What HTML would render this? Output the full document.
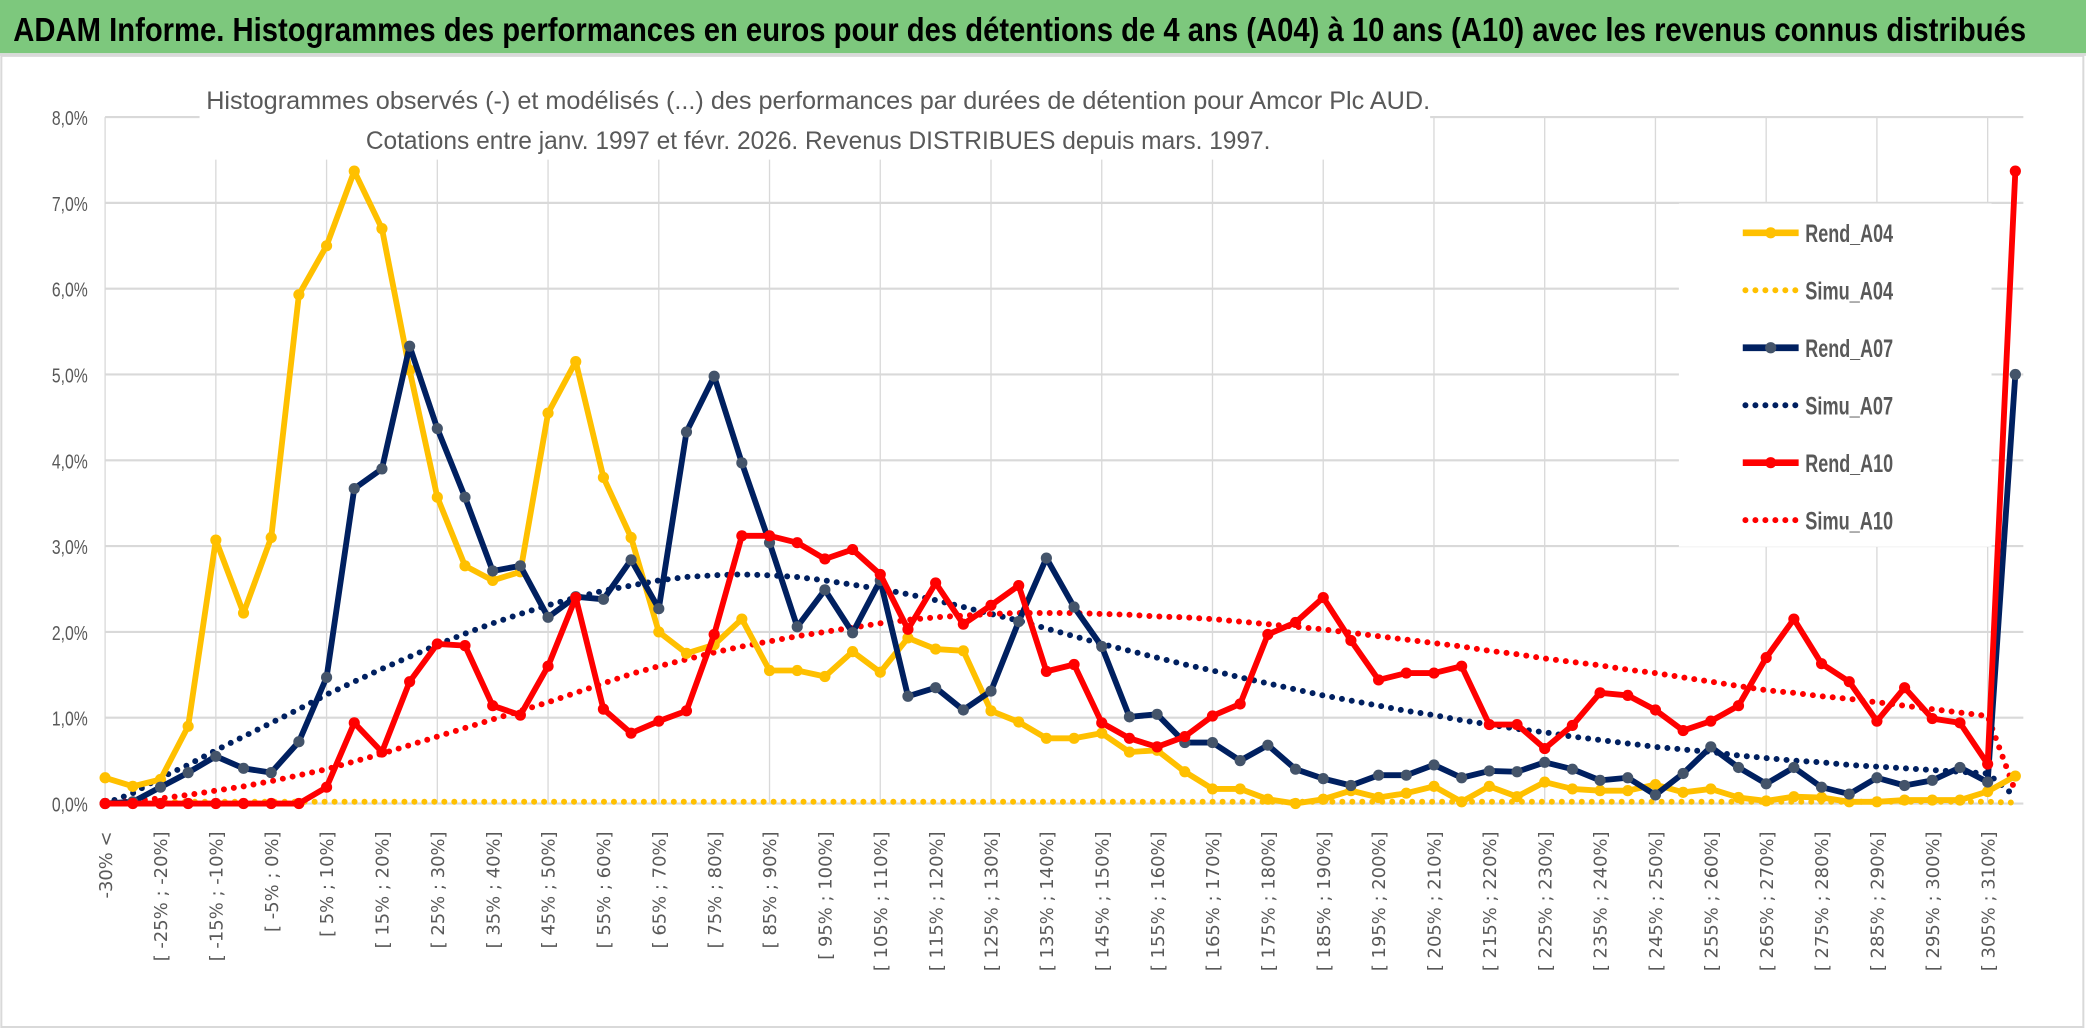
<!DOCTYPE html>
<html><head><meta charset="utf-8"><style>
html,body{margin:0;padding:0;background:#fff;}
svg{display:block;}
</style></head><body>
<svg id="chart" xmlns="http://www.w3.org/2000/svg" width="2086" height="1031" viewBox="0 0 1568 775" preserveAspectRatio="none">
<rect x="0" y="0" width="1568" height="775" fill="#fff"/>
<rect x="0" y="0" width="1568" height="40" fill="#7DC87D"/>
<line x1="0" y1="41" x2="1568" y2="41" stroke="#d9d9d9" stroke-width="2"/>
<text x="10" y="31" font-family="Liberation Sans, sans-serif" font-weight="bold" font-size="25" fill="#000" textLength="1513" lengthAdjust="spacingAndGlyphs">ADAM Informe. Histogrammes des performances en euros pour des détentions de 4 ans (A04) à 10 ans (A10) avec les revenus connus distribués</text>
<rect x="1" y="42" width="1565" height="730" fill="none" stroke="#d9d9d9" stroke-width="1.5"/>
<g id="grid"></g>
<rect x="150" y="58" width="925" height="62" fill="#fff"/>
<text x="615" y="82" text-anchor="middle" font-family="Liberation Sans, sans-serif" font-size="19" fill="#595959" textLength="920" lengthAdjust="spacingAndGlyphs">Histogrammes observés (-) et modélisés (...) des performances par durées de détention pour Amcor Plc AUD.</text>
<text x="615" y="112" text-anchor="middle" font-family="Liberation Sans, sans-serif" font-size="19" fill="#595959" textLength="680" lengthAdjust="spacingAndGlyphs">Cotations entre janv. 1997 et févr. 2026. Revenus DISTRIBUES depuis mars. 1997.</text>
<rect x="1262" y="153" width="235" height="258" fill="#fff"/>
<g id="axes"></g>
<g id="series"></g>
<g id="legend"></g>
</svg>
<script>
const categories = ["-30% <"];
for (let k = 0; k < 69; k++) { categories.push("[ " + (-30 + 5*k) + "% ; " + (-25 + 5*k) + "%]"); }
const yTicks = [0,1,2,3,4,5,6,7,8];
const yTickLabels = ["0,0%","1,0%","2,0%","3,0%","4,0%","5,0%","6,0%","7,0%","8,0%"];
const rendA04 = [0.30,0.20,0.28,0.90,3.07,2.22,3.10,5.93,6.50,7.37,6.70,5.05,3.57,2.77,2.60,2.70,4.55,5.15,3.80,3.10,2.00,1.75,1.85,2.15,1.55,1.55,1.48,1.77,1.53,1.93,1.80,1.78,1.08,0.95,0.76,0.76,0.82,0.60,0.62,0.37,0.17,0.17,0.05,0.00,0.05,0.15,0.07,0.12,0.20,0.02,0.20,0.08,0.25,0.17,0.15,0.15,0.22,0.13,0.17,0.07,0.03,0.08,0.07,0.02,0.02,0.04,0.04,0.04,0.14,0.32];
const rendA07 = [0.00,0.02,0.19,0.36,0.55,0.41,0.36,0.72,1.47,3.67,3.90,5.33,4.37,3.57,2.71,2.77,2.17,2.41,2.38,2.84,2.27,4.33,4.98,3.97,3.04,2.06,2.49,1.99,2.60,1.25,1.35,1.09,1.31,2.12,2.86,2.29,1.83,1.01,1.04,0.71,0.71,0.50,0.68,0.40,0.29,0.21,0.33,0.33,0.45,0.30,0.38,0.37,0.48,0.40,0.27,0.30,0.10,0.35,0.66,0.42,0.23,0.42,0.19,0.11,0.30,0.21,0.27,0.42,0.25,5.00];
const rendA10 = [0,0,0,0,0,0,0,0,0.19,0.94,0.60,1.42,1.86,1.84,1.14,1.03,1.60,2.40,1.10,0.82,0.96,1.08,1.97,3.12,3.12,3.04,2.85,2.96,2.67,2.03,2.57,2.09,2.31,2.54,1.54,1.62,0.94,0.76,0.66,0.78,1.02,1.16,1.97,2.11,2.40,1.90,1.44,1.52,1.52,1.60,0.92,0.92,0.64,0.91,1.29,1.26,1.09,0.85,0.96,1.14,1.70,2.15,1.63,1.42,0.96,1.35,0.99,0.94,0.46,7.37];
const simuA04 = [0.02,0.02,0.02,0.02,0.02,0.02,0.02,0.02,0.02,0.02,0.02,0.02,0.02,0.02,0.02,0.02,0.02,0.02,0.02,0.02,0.02,0.02,0.02,0.02,0.02,0.02,0.02,0.02,0.02,0.02,0.02,0.02,0.02,0.02,0.02,0.02,0.02,0.02,0.02,0.02,0.02,0.02,0.02,0.02,0.02,0.02,0.02,0.02,0.02,0.02,0.02,0.02,0.02,0.02,0.02,0.02,0.02,0.02,0.02,0.02,0.02,0.02,0.02,0.02,0.02,0.02,0.02,0.02,0.02,0.01];
const simuA07 = [0.0,0.12,0.3,0.45,0.62,0.78,0.94,1.1,1.27,1.42,1.57,1.71,1.85,1.98,2.1,2.21,2.31,2.4,2.48,2.54,2.6,2.64,2.66,2.67,2.66,2.64,2.6,2.55,2.5,2.44,2.37,2.29,2.21,2.13,2.04,1.95,1.86,1.78,1.7,1.62,1.55,1.47,1.4,1.33,1.26,1.2,1.14,1.08,1.03,0.97,0.92,0.87,0.83,0.78,0.74,0.7,0.66,0.63,0.6,0.56,0.53,0.5,0.48,0.45,0.43,0.41,0.39,0.37,0.35,0.08];
const simuA10 = [0.0,0.03,0.06,0.1,0.15,0.2,0.26,0.33,0.4,0.49,0.58,0.68,0.78,0.88,0.98,1.08,1.18,1.29,1.4,1.51,1.6,1.68,1.76,1.83,1.89,1.95,2.0,2.05,2.1,2.14,2.17,2.19,2.21,2.22,2.22,2.22,2.21,2.2,2.18,2.17,2.15,2.12,2.09,2.06,2.03,1.99,1.95,1.91,1.87,1.83,1.78,1.74,1.69,1.65,1.61,1.56,1.52,1.47,1.42,1.37,1.32,1.29,1.25,1.22,1.18,1.14,1.1,1.06,1.02,0.14];

const NS = "http://www.w3.org/2000/svg";
const X0 = 79, DX = 20.81, Y0 = 604, DY = 64.5;
function xPos(i){ return X0 + i*DX; }
function yPos(v){ return Y0 - v*DY; }
function mk(tag, attrs, parent){ const e = document.createElementNS(NS, tag); for (const k in attrs) e.setAttribute(k, attrs[k]); parent.appendChild(e); return e; }

const grid = document.getElementById('grid');
yTicks.forEach(t => {
  const l = mk('line', {x1: X0, x2: xPos(69)+6, y1: yPos(t), y2: yPos(t), stroke: '#d9d9d9', 'stroke-width': 1.6}, grid);
  
  
});
for (let i = 0; i < categories.length; i += 4) {
  const l = mk('line', {x1: xPos(i), x2: xPos(i), y1: yPos(8), y2: yPos(0), stroke: '#d9d9d9', 'stroke-width': 1}, grid);
  
  
}

const axes = document.getElementById('axes');
yTicks.forEach((t, k) => {
  const tx = mk('text', {x: 66, y: yPos(t)+6, 'text-anchor': 'end', 'font-family': 'Liberation Sans, sans-serif', 'font-size': 15, fill: '#595959', textLength: 27, lengthAdjust: 'spacingAndGlyphs'}, axes);
  tx.textContent = yTickLabels[k];
  
  
});
categories.forEach((c, i) => {
  if (i % 2 !== 0) return;
  const x = xPos(i) + 5;
  const tx = mk('text', {x: 0, y: 0, transform: 'translate(' + x + ',625) rotate(-90)', 'text-anchor': 'end', 'font-family': 'DejaVu Sans, sans-serif', 'font-size': 13.5, fill: '#595959'}, axes);
  tx.textContent = c;
  
  
});

const seriesG = document.getElementById('series');
function ptsStr(vals){ return vals.map((v,i) => xPos(i).toFixed(2) + ',' + yPos(v).toFixed(2)).join(' '); }
function dotted(vals, color, name){
  const p = mk('polyline', {points: ptsStr(vals), fill: 'none', stroke: color, 'stroke-width': 4.5, 'stroke-linecap': 'round', 'stroke-dasharray': '0 7.5'}, seriesG);
  
  
}
function solid(vals, color, mcolor, name){
  const g = mk('g', {}, seriesG);
  
  
  mk('polyline', {points: ptsStr(vals), fill: 'none', stroke: color, 'stroke-width': 4.4, 'stroke-linejoin': 'round'}, g);
  vals.forEach((v,i) => {
    const c = mk('circle', {cx: xPos(i), cy: yPos(v), r: 4.2, fill: mcolor}, g);
    
    
  });
}
dotted(simuA04, '#FFC000', 'simu-a04-line');
dotted(simuA07, '#002060', 'simu-a07-line');
dotted(simuA10, '#FF0000', 'simu-a10-line');
solid(rendA04, '#FFC000', '#FFC000', 'rend-a04-line');
solid(rendA07, '#002060', '#44546A', 'rend-a07-line');
solid(rendA10, '#FF0000', '#FF0000', 'rend-a10-line');

const legend = document.getElementById('legend');
const legendItems = [
  ['Rend_A04', '#FFC000', '#FFC000', false],
  ['Simu_A04', '#FFC000', null, true],
  ['Rend_A07', '#002060', '#44546A', false],
  ['Simu_A07', '#002060', null, true],
  ['Rend_A10', '#FF0000', '#FF0000', false],
  ['Simu_A10', '#FF0000', null, true]
];
legendItems.forEach((it, k) => {
  const y = 175 + k*43.2;
  const g = mk('g', {}, legend);
  
  
  if (it[3]) {
    mk('line', {x1: 1312, x2: 1352, y1: y, y2: y, stroke: it[1], 'stroke-width': 4.5, 'stroke-linecap': 'round', 'stroke-dasharray': '0 7.5'}, g);
  } else {
    mk('line', {x1: 1310, x2: 1352, y1: y, y2: y, stroke: it[1], 'stroke-width': 5}, g);
    mk('circle', {cx: 1331, cy: y, r: 4.2, fill: it[2]}, g);
  }
  const t = mk('text', {x: 1357, y: y+7, 'font-family': 'Liberation Sans, sans-serif', 'font-weight': 'bold', 'font-size': 19, fill: '#595959', textLength: 66, lengthAdjust: 'spacingAndGlyphs'}, g);
  t.textContent = it[0];
});
</script>
</body></html>
